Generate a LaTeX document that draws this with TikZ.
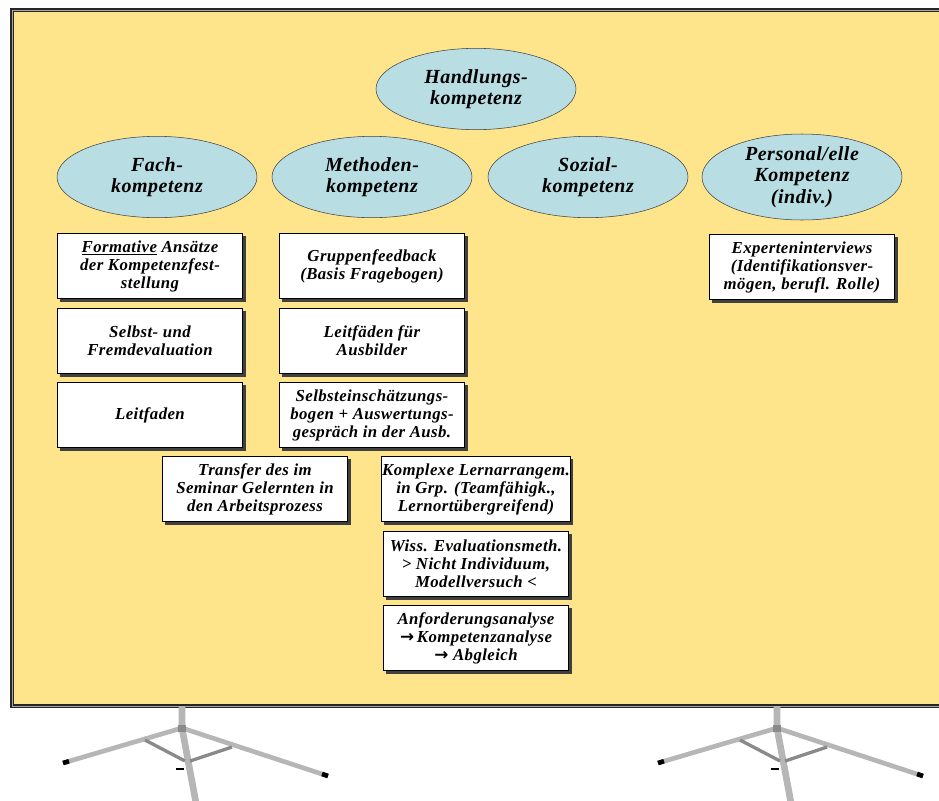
\documentclass[tikz,border=0pt]{standalone}
\usepackage{fontspec}
\setmainfont{Liberation Serif}
\newfontfamily\kartenfont[LetterSpace=2.5]{Liberation Serif}
\newfontfamily\pfeilfont{DejaVu Sans}
\usetikzlibrary{shapes.geometric,shadows}
\definecolor{tafel}{RGB}{254,228,138}
\definecolor{oval}{RGB}{184,222,228}
\definecolor{rohr}{RGB}{182,182,182}
\definecolor{strebe}{RGB}{138,138,138}
\tikzset{
  kompetenz/.style={ellipse,draw=black!75,fill=oval,inner sep=0pt,
    minimum width=150pt,minimum height=61pt,align=center,
    font=\kartenfont\fontsize{15}{16}\selectfont\bfseries\itshape},
  karte/.style={draw=black,fill=white,inner sep=0.5pt,
    minimum width=139pt,minimum height=49pt,align=center,
    font=\kartenfont\fontsize{12.6}{13.5}\selectfont\bfseries\itshape,
    drop shadow={shadow xshift=2.2pt,shadow yshift=-2.2pt,fill=black!75,opacity=1}}
}
\newcommand{\pfeil}{{\pfeilfont\bfseries\upshape →}}
\newcommand{\stativ}[1]{
  \begin{scope}[shift={(#1,728)}]
    \draw[rohr,line width=5pt] (0,-22) -- (0,0) -- (14,75);% Mittelstange
    \draw[rohr,line width=3.5pt] (-119,35) -- (0,0) -- (146,48);% Beine
    \draw[strebe,line width=2.5pt] (-37,12) -- (3,33) (50,19) -- (8,33);% Streben
    \fill[strebe] (-4,-3) rectangle (4,4);
    \draw[black,line width=3.5pt] (-113,33.2) -- (-119,35);% Fuesse
    \draw[black,line width=3.5pt] (140,46) -- (146,48);
    \draw[black,line width=1.5pt] (-6,41) -- (2,41);
  \end{scope}
}

\begin{document}
\begin{tikzpicture}[x=0.75pt,y=-0.75pt]
  \useasboundingbox (0,0) rectangle (939,800);

  % Tafel
  \fill[tafel] (12,10) rectangle (950,706);
  \draw[black!85,double=black!35,double distance=0.7pt,line width=0.9pt]
    (12,10) rectangle (950,706);
  \stativ{182}
  \stativ{777}

  % Kompetenzen
  \node[kompetenz] (hk) at (476,89) {Handlungs-\\kompetenz};
  \node[kompetenz] (fk) at (157,177) {Fach-\\kompetenz};
  \node[kompetenz] (mk) at (372,177) {Methoden-\\kompetenz};
  \node[kompetenz] (sk) at (588,177) {Sozial-\\kompetenz};
  \node[kompetenz] (pk) at (802,177) {Personal/elle\\Kompetenz\\(indiv.)};

  % Fachkompetenz
  \node[karte] (fk1) at (150,266) {\underline{Formative} Ansätze\\der Kompetenzfest-\\stellung};
  \node[karte] (fk2) at (150,341) {Selbst- und\\Fremdevaluation};
  \node[karte] (fk3) at (150,415) {Leitfaden};
  \node[karte] (fk4) at (255,489) {Transfer des im\\Seminar Gelernten in\\den Arbeitsprozess};

  % Methodenkompetenz
  \node[karte] (mk1) at (372,266) {Gruppenfeedback\\(Basis Fragebogen)};
  \node[karte] (mk2) at (372,341) {Leitfäden für\\Ausbilder};
  \node[karte] (mk3) at (372,415) {Selbsteinschätzungs-\\bogen + Auswertungs-\\gespräch in der Ausb.};
  \node[karte] (mk4) at (476,489) {Komplexe Lernarrangem.\\in Grp. (Teamfähigk.,\\Lernortübergreifend)};
  \node[karte] (mk5) at (476,564) {Wiss. Evaluationsmeth.\\> Nicht Individuum,\\Modellversuch <};
  \node[karte] (mk6) at (476,638) {Anforderungsanalyse\\\pfeil\,Kompetenzanalyse\\\pfeil\ Abgleich};

  % Personale Kompetenz
  \node[karte] (pk1) at (802,267) {Experteninterviews\\(Identifikationsver-\\mögen, berufl. Rolle)};
\end{tikzpicture}
\end{document}
